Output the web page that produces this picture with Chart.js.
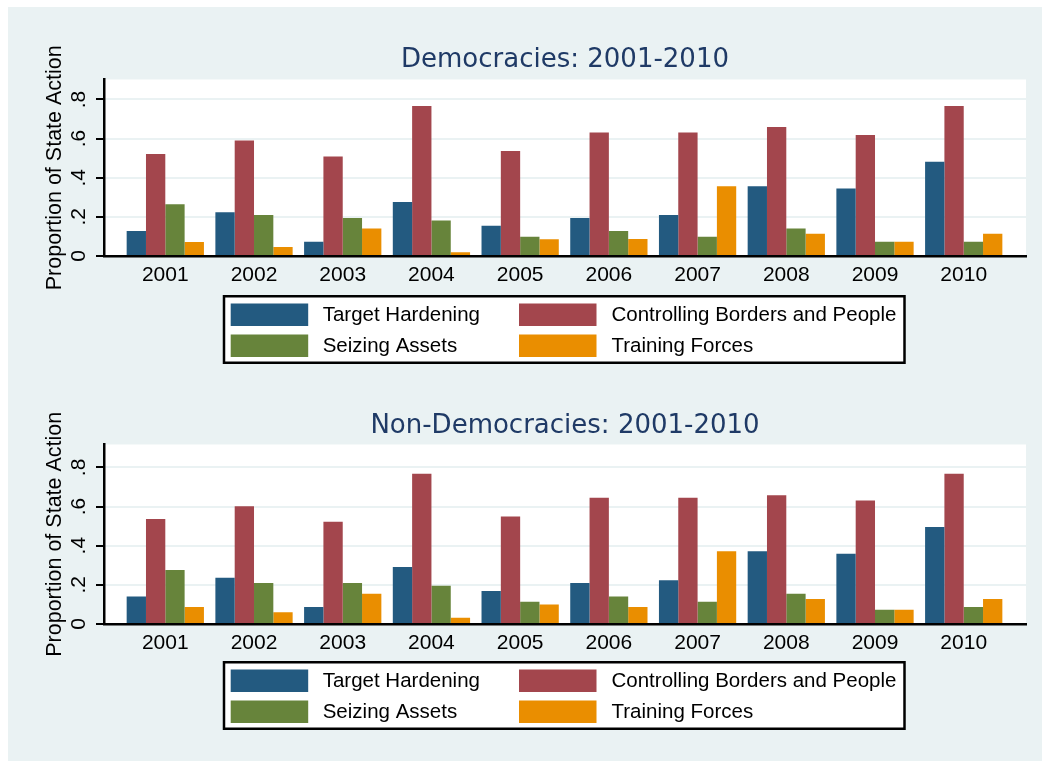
<!DOCTYPE html>
<html>
<head>
<meta charset="utf-8">
<script src="https://cdn.jsdelivr.net/npm/chart.js@4.4.1/dist/chart.umd.min.js"></script>
<style>
  html, body { margin: 0; padding: 0; background: #fff; }
  #bg { position: absolute; left: 8px; top: 7px; width: 1034px; height: 754px; background: #eaf2f3; }
  canvas { position: absolute; left: 0; }
  #dem { top: 0; }
  #nondem { top: 368px; }
</style>
</head>
<body>
<div id="bg"></div>
<canvas id="dem" width="1050" height="368"></canvas>
<canvas id="nondem" width="1050" height="400"></canvas>
<script>
// data
const years = [2001, 2002, 2003, 2004, 2005, 2006, 2007, 2008, 2009, 2010];
const seriesNames = ['Target Hardening', 'Controlling Borders and People', 'Seizing Assets', 'Training Forces'];
const seriesColors = ['#235a80', '#a3464d', '#67843b', '#ea8e00'];

const demTarget   = [0.128, 0.223, 0.073, 0.276, 0.155, 0.194, 0.209, 0.357, 0.345, 0.482];
const demBorders  = [0.521, 0.590, 0.509, 0.766, 0.536, 0.631, 0.631, 0.659, 0.618, 0.767];
const demAssets   = [0.264, 0.209, 0.194, 0.182, 0.099, 0.128, 0.099, 0.141, 0.073, 0.073];
const demTraining = [0.071, 0.046, 0.141, 0.019, 0.085, 0.087, 0.357, 0.114, 0.073, 0.114];

const nonTarget   = [0.141, 0.236, 0.087, 0.291, 0.168, 0.209, 0.223, 0.372, 0.359, 0.495];
const nonBorders  = [0.536, 0.602, 0.522, 0.767, 0.549, 0.645, 0.645, 0.658, 0.631, 0.767];
const nonAssets   = [0.276, 0.209, 0.209, 0.196, 0.114, 0.141, 0.114, 0.155, 0.073, 0.087];
const nonTraining = [0.087, 0.060, 0.155, 0.032, 0.100, 0.087, 0.372, 0.128, 0.073, 0.128];

const yTickValues = [0, 0.2, 0.4, 0.6, 0.8];
const yTickLabels = ['0', '.2', '.4', '.6', '.8'];

const bgColor = '#eaf2f3';

// white plot region, rotated y tick labels and the boxed 2x2 legend
const panelDecor = {
  id: 'panelDecor',
  beforeDraw(chart) {
    const { ctx, chartArea: a } = chart;
    ctx.save();
    ctx.fillStyle = '#fff';
    ctx.fillRect(a.left, a.top, a.right - a.left, a.bottom - a.top);
    ctx.restore();
  },
  afterDraw(chart, args, opts) {
    const { ctx, chartArea: a } = chart;
    const y = chart.scales.y;
    ctx.save();
    ctx.fillStyle = '#000';
    ctx.font = '21px "Liberation Sans"';
    ctx.textAlign = 'center';
    ctx.textBaseline = 'alphabetic';
    yTickValues.forEach((v, i) => {
      ctx.save();
      ctx.translate(a.left - 19, y.getPixelForValue(v));
      ctx.rotate(-Math.PI / 2);
      ctx.fillText(yTickLabels[i], 0, 0);
      ctx.restore();
    });

    // legend box
    const top = opts.legendTop;
    ctx.fillStyle = '#fff';
    ctx.fillRect(223, top, 682, 69);
    ctx.lineWidth = 2.5;
    ctx.strokeStyle = '#000';
    ctx.strokeRect(224, top + 1.25, 680.5, 66.5);

    const colX = [230.7, 519];
    const textX = [322.7, 611.5];
    const rowY = [top + 8.5, top + 39.5];
    ctx.font = '20.5px "Liberation Sans"';
    ctx.textAlign = 'left';
    ctx.textBaseline = 'middle';
    chart.data.datasets.forEach((ds, i) => {
      const r = Math.floor(i / 2), c = i % 2;
      ctx.fillStyle = ds.backgroundColor;
      ctx.fillRect(colX[c], rowY[r], 77.5, 22.5);
      ctx.fillStyle = '#000';
      ctx.fillText(ds.label, textX[c], rowY[r] + 12);
    });
    ctx.restore();
  }
};

function makePanel(id, title, series, yMax, pad, legendTop) {
  const datasets = series.map((vals, i) => ({
    label: seriesNames[i],
    data: years.map((yr, j) => ({ x: yr, y: vals[j] })),
    backgroundColor: seriesColors[i],
    borderWidth: 0,
    categoryPercentage: 0.871,
    barPercentage: 1.0
  }));

  return new Chart(document.getElementById(id), {
    type: 'bar',
    data: { datasets },
    options: {
      responsive: false,
      animation: false,
      devicePixelRatio: 1,
      layout: { padding: { left: 0, right: 24, top: pad.top, bottom: pad.bottom } },
      scales: {
        x: {
          type: 'linear',
          min: 2000.309,
          max: 2010.702,
          offset: false,
          z: 1,
          afterFit: (s) => { s.height = 40; },
          grid: { display: false, drawTicks: false },
          border: { display: true, color: '#000', width: 2.5 },
          ticks: {
            stepSize: 1,
            includeBounds: false,
            autoSkip: false,
            maxRotation: 0,
            padding: 7,
            color: '#000',
            font: { family: 'Liberation Sans', size: 21 },
            callback: (v) => (years.includes(v) ? String(v) : '')
          }
        },
        y: {
          min: 0,
          max: yMax,
          afterFit: (s) => { s.width = 104; },
          afterBuildTicks: (s) => { s.ticks = yTickValues.map(v => ({ value: v })); },
          grid: {
            color: bgColor,
            lineWidth: 2,
            drawTicks: true,
            tickLength: 8,
            tickColor: '#000',
            tickWidth: 2
          },
          border: { display: true, color: '#000', width: 2.5 },
          ticks: { display: false },
          title: {
            display: true,
            text: 'Proportion of State Action',
            color: '#000',
            font: { family: 'Liberation Sans', size: 21.5 },
            padding: { top: 42.1, bottom: 0 }
          }
        }
      },
      plugins: {
        legend: { display: false },
        tooltip: { enabled: false },
        title: {
          display: true,
          text: title,
          fullSize: false,
          color: '#1f3a66',
          font: { family: 'DejaVu Sans', size: 26, weight: 'normal' },
          padding: { top: 0, bottom: pad.titleBottom }
        },
        panelDecor: { legendTop }
      }
    },
    plugins: [panelDecor]
  });
}

makePanel('dem', 'Democracies: 2001-2010',
  [demTarget, demBorders, demAssets, demTraining], 0.902,
  { top: 44.4, bottom: 72, titleBottom: 3.9 }, 295);

makePanel('nondem', 'Non-Democracies: 2001-2010',
  [nonTarget, nonBorders, nonAssets, nonTraining], 0.917,
  { top: 42.4, bottom: 104, titleBottom: 2.9 }, 293);
</script>
</body>
</html>
